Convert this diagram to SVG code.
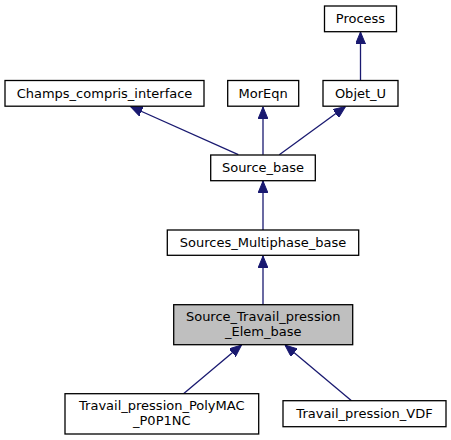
<svg xmlns="http://www.w3.org/2000/svg" width="451" height="440" viewBox="0 0 451 440">
<style>
.box{fill:#ffffff;stroke:#000000;stroke-width:1.3}
.cur{fill:#bfbfbf;stroke:#000000;stroke-width:1.3}
.lbl{font-family:"DejaVu Sans",sans-serif;font-size:13px;fill:#000000;text-anchor:middle}
.edge{stroke:#191970;stroke-width:1.3;fill:none;marker-end:url(#arr)}
</style>
<defs>
<marker id="arr" viewBox="0 0 12 10" refX="12" refY="5" markerWidth="12" markerHeight="10" markerUnits="userSpaceOnUse" orient="auto">
<path d="M0,0 L12,5 L0,10 Z" fill="#191970" stroke="#191970" stroke-width="1"/>
</marker>
</defs>
<rect width="451" height="440" fill="#ffffff"/>
<g id="connectors">
<line class="edge" x1="360.5" y1="80.3" x2="360.5" y2="32"/>
<line class="edge" x1="238.3" y1="154.7" x2="130.5" y2="106.5"/>
<line class="edge" x1="263" y1="154.7" x2="263" y2="107"/>
<line class="edge" x1="279.3" y1="154.7" x2="345.5" y2="106.5"/>
<line class="edge" x1="263" y1="230" x2="263" y2="181"/>
<line class="edge" x1="263" y1="304.7" x2="263" y2="256"/>
<line class="edge" x1="183.5" y1="393.7" x2="241.5" y2="345"/>
<line class="edge" x1="351.5" y1="400.7" x2="285" y2="345"/>
</g>
<g id="Process">
<rect class="box" x="324.5" y="6" width="72" height="25.7"/>
<text class="lbl" x="360.5" y="23.3">Process</text>
</g>
<g id="Champs_compris_interface">
<rect class="box" x="5" y="80.5" width="199" height="25.7"/>
<text class="lbl" x="104.5" y="97.6">Champs_compris_interface</text>
</g>
<g id="MorEqn">
<rect class="box" x="227.7" y="80.5" width="71" height="25.7"/>
<text class="lbl" x="263.2" y="97.6">MorEqn</text>
</g>
<g id="Objet_U">
<rect class="box" x="323" y="80.5" width="75" height="25.7"/>
<text class="lbl" x="360.5" y="97.6">Objet_U</text>
</g>
<g id="Source_base">
<rect class="box" x="210.7" y="155" width="104.6" height="25.7"/>
<text class="lbl" x="263" y="172">Source_base</text>
</g>
<g id="Sources_Multiphase_base">
<rect class="box" x="167.3" y="230" width="191.4" height="25.3"/>
<text class="lbl" x="263" y="246.8">Sources_Multiphase_base</text>
</g>
<g id="Source_Travail_pression_Elem_base">
<rect class="cur" x="173.7" y="304.7" width="179" height="40"/>
<text class="lbl" x="263.2" y="321">Source_Travail_pression</text>
<text class="lbl" x="263.2" y="335.5">_Elem_base</text>
</g>
<g id="Travail_pression_PolyMAC_P0P1NC">
<rect class="box" x="65" y="393.7" width="193.7" height="40.3"/>
<text class="lbl" x="161.8" y="410">Travail_pression_PolyMAC</text>
<text class="lbl" x="161.8" y="424.5">_P0P1NC</text>
</g>
<g id="Travail_pression_VDF">
<rect class="box" x="283" y="400.7" width="163" height="26"/>
<text class="lbl" x="364.5" y="418">Travail_pression_VDF</text>
</g>
</svg>
